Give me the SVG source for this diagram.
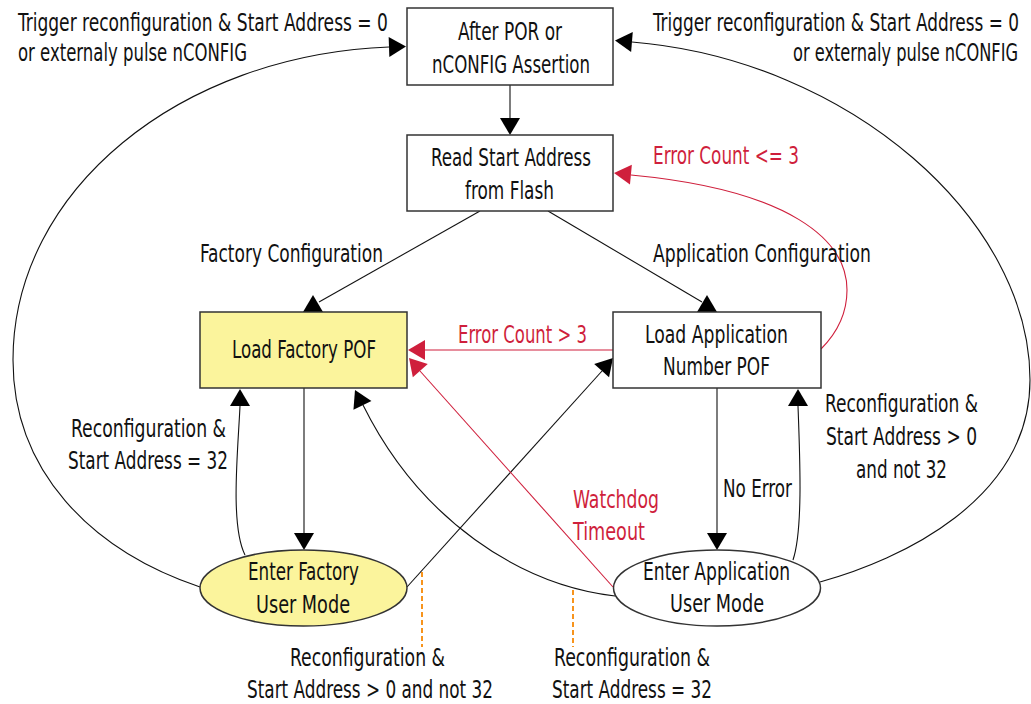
<svg xmlns="http://www.w3.org/2000/svg" xmlns:xlink="http://www.w3.org/1999/xlink" width="1031" height="704" viewBox="0 0 1031 704">
<style>
text{font-family:"Liberation Sans Narrow","DejaVu Sans Condensed","Liberation Sans",Arial,sans-serif;font-size:25px;fill:#111}
.red{fill:#cf1f3c}
.end{text-anchor:end}
.box{fill:#fff;stroke:#333;stroke-width:1.5}
.yel{fill:#fbf49c}
.ln{fill:none;stroke:#111;stroke-width:1.1}
.rln{fill:none;stroke:#cf1f3c;stroke-width:1.1}
.ah{fill:#000}
.rah{fill:#cf1f3c}
.dash{fill:none;stroke:#f7941d;stroke-width:2;stroke-dasharray:5 3}
</style>
<defs>
<path id="ah" d="M0,0 L-17,-10 L-17,10 Z"/>
</defs>
<rect width="1031" height="704" fill="#fff"/>

<g id="connectors">
<path class="ln" d="M510,85 L510,118"/>
<use href="#ah" class="ah" transform="translate(510,135) rotate(90)"/>

<path class="ln" d="M480,211 L319,302"/>
<use href="#ah" class="ah" transform="translate(313,295) rotate(-90)"/>

<path class="ln" d="M548,211 L702,302"/>
<use href="#ah" class="ah" transform="translate(707,295) rotate(-90)"/>

<path class="ln" d="M304,388 L304,533"/>
<use href="#ah" class="ah" transform="translate(304,550) rotate(90)"/>

<path class="ln" d="M245,555 C230,525 238,450 240,406"/>
<use href="#ah" class="ah" transform="translate(240,389) rotate(-90)"/>

<path class="ln" d="M407,587 L602,371"/>
<use href="#ah" class="ah" transform="translate(613,358) rotate(-48)"/>

<path class="ln" d="M615,596 C520,585 420,520 363,405"/>
<use href="#ah" class="ah" transform="translate(355,390) rotate(-116)"/>

<path class="rln" d="M613,587 L420,371"/>
<use href="#ah" class="rah" transform="translate(409,358) rotate(-131.7)"/>

<path class="rln" d="M613,350 L425,350"/>
<use href="#ah" class="rah" transform="translate(408,350) rotate(180)"/>

<path class="rln" d="M821,349 C838,332 847,312 847,290 C847,240 790,190 631,175"/>
<use href="#ah" class="rah" transform="translate(614,173) rotate(185.4)"/>

<path class="ln" d="M717,388 L717,533"/>
<use href="#ah" class="ah" transform="translate(717,550) rotate(90)"/>

<path class="ln" d="M793,560 C803,530 800,460 798,406"/>
<use href="#ah" class="ah" transform="translate(798,389) rotate(-90)"/>

<path class="ln" d="M200,587 C90,550 13,470 13,360 C13,190 180,55 389,47"/>
<use href="#ah" class="ah" transform="translate(406,46.5) rotate(-2)"/>

<path class="ln" d="M820,582 C900,560 1030,500 1030,380 C1030,220 850,60 632,42"/>
<use href="#ah" class="ah" transform="translate(615,40.6) rotate(184.7)"/>

<path class="dash" d="M422,572 L422,647"/>
<path class="dash" d="M573,590 L573,647"/>
</g>

<g id="labels">
<text x="18" y="31" textLength="370" lengthAdjust="spacingAndGlyphs">Trigger reconfiguration &amp; Start Address = 0</text>
<text x="18" y="61" textLength="229" lengthAdjust="spacingAndGlyphs">or externaly pulse nCONFIG</text>
<text class="end" x="1019" y="31" textLength="366" lengthAdjust="spacingAndGlyphs">Trigger reconfiguration &amp; Start Address = 0</text>
<text class="end" x="1018" y="61" textLength="225" lengthAdjust="spacingAndGlyphs">or externaly pulse nCONFIG</text>
<text x="200" y="262" textLength="183" lengthAdjust="spacingAndGlyphs">Factory Configuration</text>
<text x="653" y="262" textLength="218" lengthAdjust="spacingAndGlyphs">Application Configuration</text>
<text class="red" x="653" y="164" textLength="146" lengthAdjust="spacingAndGlyphs">Error Count &lt;= 3</text>
<text class="red" x="458" y="343" textLength="129" lengthAdjust="spacingAndGlyphs">Error Count &gt; 3</text>
<text x="71" y="437" textLength="155" lengthAdjust="spacingAndGlyphs">Reconfiguration &amp;</text>
<text x="68" y="469" textLength="160" lengthAdjust="spacingAndGlyphs">Start Address = 32</text>
<text x="825" y="412" textLength="153" lengthAdjust="spacingAndGlyphs">Reconfiguration &amp;</text>
<text x="826" y="445" textLength="151" lengthAdjust="spacingAndGlyphs">Start Address &gt; 0</text>
<text x="856" y="478" textLength="91" lengthAdjust="spacingAndGlyphs">and not 32</text>
<text x="723" y="497" textLength="69" lengthAdjust="spacingAndGlyphs">No Error</text>
<text class="red" x="573" y="508" textLength="86" lengthAdjust="spacingAndGlyphs">Watchdog</text>
<text class="red" x="573" y="540" textLength="72" lengthAdjust="spacingAndGlyphs">Timeout</text>
<text x="290" y="666" textLength="155" lengthAdjust="spacingAndGlyphs">Reconfiguration &amp;</text>
<text class="end" x="493" y="698" textLength="246" lengthAdjust="spacingAndGlyphs">Start Address &gt; 0 and not 32</text>
<text x="554" y="666" textLength="156" lengthAdjust="spacingAndGlyphs">Reconfiguration &amp;</text>
<text x="552" y="698" textLength="160" lengthAdjust="spacingAndGlyphs">Start Address = 32</text>
</g>

<g id="node-por">
<rect class="box" x="407" y="8" width="206" height="77"/>
<text x="458" y="39.5" textLength="104" lengthAdjust="spacingAndGlyphs">After POR or</text>
<text x="432" y="72.5" textLength="158" lengthAdjust="spacingAndGlyphs">nCONFIG Assertion</text>
</g>
<g id="node-read">
<rect class="box" x="407" y="135" width="206" height="76"/>
<text x="431" y="166" textLength="160" lengthAdjust="spacingAndGlyphs">Read Start Address</text>
<text x="465" y="199" textLength="89" lengthAdjust="spacingAndGlyphs">from Flash</text>
</g>
<g id="node-loadfactory">
<rect class="box yel" x="200" y="312" width="207" height="76"/>
<text x="232" y="358" textLength="144" lengthAdjust="spacingAndGlyphs">Load Factory POF</text>
</g>
<g id="node-loadapp">
<rect class="box" x="613" y="312" width="208" height="76"/>
<text x="645" y="343" textLength="143" lengthAdjust="spacingAndGlyphs">Load Application</text>
<text x="663" y="375" textLength="107" lengthAdjust="spacingAndGlyphs">Number POF</text>
</g>
<g id="node-enterfactory">
<ellipse class="box yel" cx="303.5" cy="588" rx="103.5" ry="38"/>
<text x="248" y="580" textLength="111" lengthAdjust="spacingAndGlyphs">Enter Factory</text>
<text x="256" y="613" textLength="94" lengthAdjust="spacingAndGlyphs">User Mode</text>
</g>
<g id="node-enterapp">
<ellipse class="box" cx="717" cy="588" rx="103.5" ry="38"/>
<text x="643" y="580" textLength="147" lengthAdjust="spacingAndGlyphs">Enter Application</text>
<text x="670" y="612" textLength="94" lengthAdjust="spacingAndGlyphs">User Mode</text>
</g>
</svg>
